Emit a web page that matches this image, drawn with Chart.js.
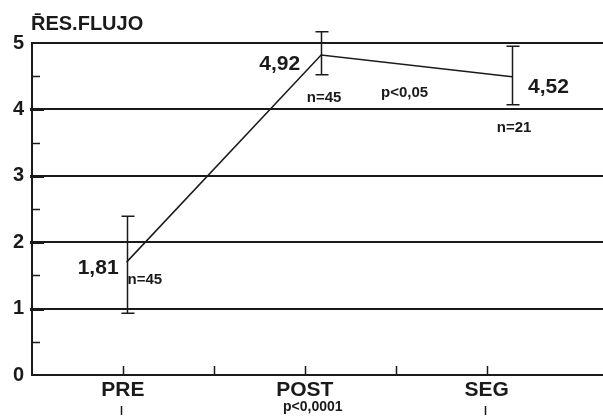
<!DOCTYPE html>
<html>
<head>
<meta charset="utf-8">
<script src="https://cdn.jsdelivr.net/npm/chart.js@4"></script>
<style>
  html, body { margin: 0; padding: 0; background: #ffffff; }
  #wrap { width: 603px; height: 417px; }
</style>
</head>
<body>
<div id="wrap"><canvas id="flujoChart" width="603" height="417"></canvas></div>
<script>
// Daten
const kategorien = ['PRE', 'POST', 'SEG'];
const kategorieX = [0.5, 1.5, 2.5];
const punktX = [0.52, 1.59, 2.64];
const mittelwerte = [1.70, 4.82, 4.49];
const fehlerOben = [2.39, 5.17, 4.95];
const fehlerUnten = [0.93, 4.52, 4.07];
const wertLabels = ['1,81', '4,92', '4,52'];
const nLabels = ['n=45', 'n=45', 'n=21'];
const pLabels = ['p<0,0001', 'p<0,05'];
const yTicks = [0, 1, 2, 3, 4, 5];
const titel = 'R\u0304ES.FLUJO';

const schrift = '"Liberation Sans", Arial, sans-serif';

const extras = {
    id: 'extras',
    afterDraw: (chart) => {
        const ctx = chart.ctx;
        const xs = chart.scales.x;
        const ys = chart.scales.y;
        const area = chart.chartArea;
        ctx.save();
        ctx.strokeStyle = '#1a1a1a';
        ctx.fillStyle = '#1a1a1a';

        // kleine Striche an der Y-Achse
        for (let v = 0.5; v < 5; v += 0.5) {
            const y = Math.round(ys.getPixelForValue(v)) + 0.5;
            const ganz = Number.isInteger(v);
            ctx.lineWidth = ganz ? 3 : 1.5;
            ctx.beginPath();
            ctx.moveTo(area.left - (ganz ? 2 : 0), y);
            ctx.lineTo(area.left + (ganz ? 12 : 8), y);
            ctx.stroke();
        }

        // kleine Striche an der X-Achse
        ctx.lineWidth = 1.5;
        for (let v = 0.5; v <= 2.5; v += 0.5) {
            const x = Math.round(xs.getPixelForValue(v)) + 0.5;
            ctx.beginPath();
            ctx.moveTo(x, area.bottom - 9);
            ctx.lineTo(x, area.bottom);
            ctx.stroke();
        }
        [kategorieX[0], kategorieX[2]].forEach(v => {
            const x = Math.round(xs.getPixelForValue(v)) - 1.5;
            ctx.beginPath();
            ctx.moveTo(x, area.bottom + 31);
            ctx.lineTo(x, area.bottom + 40);
            ctx.stroke();
        });

        // Fehlerbalken
        ctx.lineWidth = 1.5;
        punktX.forEach((px, i) => {
            const x = Math.round(xs.getPixelForValue(px)) + 0.5;
            const y1 = ys.getPixelForValue(fehlerOben[i]);
            const y2 = ys.getPixelForValue(fehlerUnten[i]);
            ctx.beginPath();
            ctx.moveTo(x, y1); ctx.lineTo(x, y2);
            ctx.moveTo(x - 6, y1); ctx.lineTo(x + 7, y1);
            ctx.moveTo(x - 6, y2); ctx.lineTo(x + 7, y2);
            ctx.stroke();
        });

        // Titel
        ctx.font = 'bold 20px ' + schrift;
        ctx.textAlign = 'left';
        ctx.textBaseline = 'alphabetic';
        ctx.fillText(titel, area.left - 1, area.top - 13);

        // Werte
        const p = punktX.map((v, i) => ({
            x: xs.getPixelForValue(v),
            y: ys.getPixelForValue(mittelwerte[i])
        }));
        ctx.font = 'bold 21px ' + schrift;
        ctx.textAlign = 'right';
        ctx.fillText(wertLabels[0], p[0].x - 8, p[0].y + 12);
        ctx.fillText(wertLabels[1], p[1].x - 21, p[1].y + 15);
        ctx.textAlign = 'left';
        ctx.fillText(wertLabels[2], p[2].x + 16, p[2].y + 16);

        // n-Werte
        ctx.font = 'bold 15px ' + schrift;
        ctx.textAlign = 'left';
        ctx.fillText(nLabels[0], p[0].x + 1, p[0].y + 22);
        ctx.textAlign = 'center';
        ctx.fillText(nLabels[1], p[1].x + 3, p[1].y + 47);
        ctx.fillText(nLabels[2], p[2].x + 2, p[2].y + 55);
        ctx.fillText(pLabels[1], (p[1].x + p[2].x) / 2 - 12, p[1].y + 42);

        ctx.font = 'bold 14px ' + schrift;
        ctx.fillText(pLabels[0], xs.getPixelForValue(kategorieX[1]) + 8, area.bottom + 36);
        ctx.restore();
    }
};

const ctx = document.getElementById('flujoChart').getContext('2d');

const myChart = new Chart(ctx, {
    type: 'line',
    data: {
        datasets: [{
            data: punktX.map((x, i) => ({ x: x, y: mittelwerte[i] })),
            borderColor: '#1a1a1a',
            borderWidth: 1.5,
            pointRadius: 0,
            fill: false,
            tension: 0,
            clip: false
        }]
    },
    options: {
        responsive: false,
        animation: false,
        layout: {
            padding: { top: 43, left: 0, right: 0, bottom: 0 }
        },
        scales: {
            x: {
                type: 'linear',
                min: 0,
                max: 3.14,
                afterBuildTicks: (scale) => {
                    scale.ticks = kategorieX.map(v => ({ value: v }));
                },
                afterFit: (scale) => { scale.height = 42; },
                ticks: {
                    color: '#1a1a1a',
                    padding: 3,
                    autoSkip: false,
                    maxRotation: 0,
                    font: { family: schrift, size: 21, weight: 'bold' },
                    callback: (value) => kategorien[kategorieX.indexOf(value)]
                },
                grid: { display: false, drawTicks: false },
                border: { color: '#1a1a1a', width: 2 }
            },
            y: {
                min: 0,
                max: 5,
                afterBuildTicks: (scale) => {
                    scale.ticks = yTicks.map(v => ({ value: v }));
                },
                afterFit: (scale) => { scale.width = 32; },
                ticks: {
                    color: '#1a1a1a',
                    padding: 8,
                    font: { family: schrift, size: 20, weight: 'bold' }
                },
                grid: {
                    color: '#1a1a1a',
                    lineWidth: 2,
                    drawTicks: false
                },
                border: { color: '#1a1a1a', width: 2 }
            }
        },
        plugins: {
            legend: { display: false },
            tooltip: { enabled: false }
        }
    },
    plugins: [extras]
});
</script>
</body>
</html>
